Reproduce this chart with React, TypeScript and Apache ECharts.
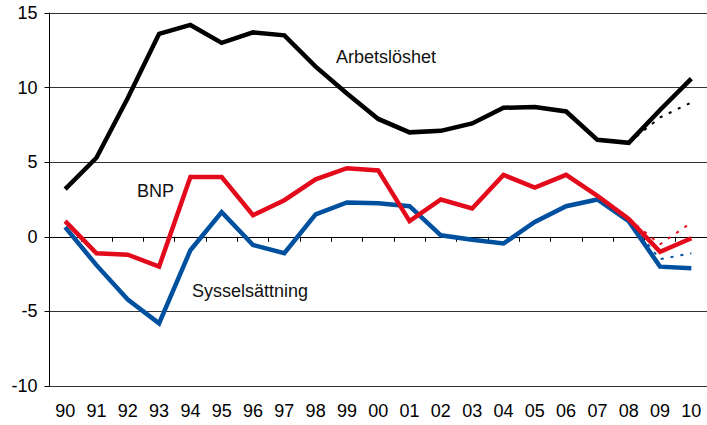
import React, { useEffect, useRef } from "react";
import * as echarts from "echarts";

const years = ["90","91","92","93","94","95","96","97","98","99","00","01","02","03","04","05","06","07","08","09","10"];
const yTicks = { min: -10, max: 15, interval: 5 };

const arbetsloshet = [3.2, 5.3, 9.3, 13.6, 14.2, 13.0, 13.7, 13.5, 11.4, 9.6, 7.9, 7.0, 7.1, 7.6, 8.65, 8.7, 8.4, 6.5, 6.3, 8.5, 10.6];
const bnp = [1.05, -1.1, -1.2, -2.0, 4.0, 4.0, 1.45, 2.45, 3.85, 4.6, 4.45, 1.05, 2.5, 1.9, 4.15, 3.3, 4.15, 2.75, 1.2, -1.0, -0.1];
const syssel = [0.65, -1.9, -4.2, -5.8, -0.9, 1.65, -0.55, -1.1, 1.5, 2.3, 2.25, 2.05, 0.1, -0.2, -0.45, 1.0, 2.05, 2.5, 1.05, -2.0, -2.1];

// Alternative (dotted) paths for 08–10
const arbetsloshetAlt = [null, null, null, null, null, null, null, null, null, null, null, null, null, null, null, null, null, null, 6.3, 8.0, 9.0];
const bnpAlt = [null, null, null, null, null, null, null, null, null, null, null, null, null, null, null, null, null, null, 1.2, -0.5, 0.95];
const sysselAlt = [null, null, null, null, null, null, null, null, null, null, null, null, null, null, null, null, null, null, 1.05, -1.5, -1.1];

const labels = [
  { text: "Arbetslöshet", x: 336, y: 57 },
  { text: "BNP", x: 137, y: 191 },
  { text: "Sysselsättning", x: 192, y: 291 },
];

const BLACK = "#000000";
const RED = "#E30A1C";
const BLUE = "#0050A0";
const FONT = "'Liberation Sans', Arial, sans-serif";

export default function App() {
  const ref = useRef<HTMLDivElement>(null);
  useEffect(() => {
    if (!ref.current) return;
    const chart = echarts.init(ref.current, null, { renderer: "svg" });
    const solid = (name: string, data: any[], color: string, width: number) => ({
      name,
      type: "line",
      data,
      xAxisIndex: 0,
      symbol: "none",
      lineStyle: { color, width, join: "miter", cap: "butt" },
      z: 3,
    });
    const dotted = (name: string, data: any[], color: string) => ({
      name,
      type: "line",
      data,
      xAxisIndex: 0,
      symbol: "none",
      lineStyle: { color, width: 2, type: [3, 7] },
      z: 2,
    });
    chart.setOption({
      animation: false,
      backgroundColor: "#ffffff",
      textStyle: { fontFamily: FONT },
      grid: { left: 49.5, top: 13, width: 664, height: 373, containLabel: false },
      xAxis: [
        {
          type: "category",
          data: years,
          boundaryGap: true,
          axisLine: { onZero: true, lineStyle: { color: "#000", width: 1 } },
          axisTick: { show: true, length: 5, inside: false, lineStyle: { color: "#000" } },
          axisLabel: { show: false },
          splitLine: { show: false },
        },
        {
          type: "category",
          data: years,
          position: "bottom",
          boundaryGap: true,
          axisLine: { show: false, onZero: false },
          axisTick: { show: false },
          axisLabel: { show: true, color: "#000", fontSize: 18, fontFamily: FONT, margin: 16 },
          splitLine: { show: false },
        },
      ],
      yAxis: {
        type: "value",
        min: yTicks.min,
        max: yTicks.max,
        interval: yTicks.interval,
        axisLine: { show: true, lineStyle: { color: "#000", width: 1 } },
        axisTick: { show: true, length: 5, lineStyle: { color: "#000" } },
        axisLabel: { color: "#000", fontSize: 18, fontFamily: FONT, margin: 12 },
        splitLine: { show: true, lineStyle: { color: "#333", width: 1 } },
      },
      graphic: labels.map((l) => ({
        type: "text",
        x: l.x,
        y: l.y,
        style: {
          text: l.text,
          fill: "#111",
          font: `18px ${FONT}`,
          textAlign: "left",
          textVerticalAlign: "middle",
        },
        z: 10,
      })),
      series: [
        dotted("Arbetslöshet alt", arbetsloshetAlt, BLACK),
        dotted("BNP alt", bnpAlt, RED),
        dotted("Sysselsättning alt", sysselAlt, BLUE),
        solid("Sysselsättning", syssel, BLUE, 4.5),
        solid("BNP", bnp, RED, 4.5),
        solid("Arbetslöshet", arbetsloshet, BLACK, 4.5),
      ],
    });
    return () => chart.dispose();
  }, []);
  return (
    <div
      ref={ref}
      style={{ position: "absolute", left: 0, top: 0, width: 707, height: 425, overflow: "hidden" }}
    />
  );
}
